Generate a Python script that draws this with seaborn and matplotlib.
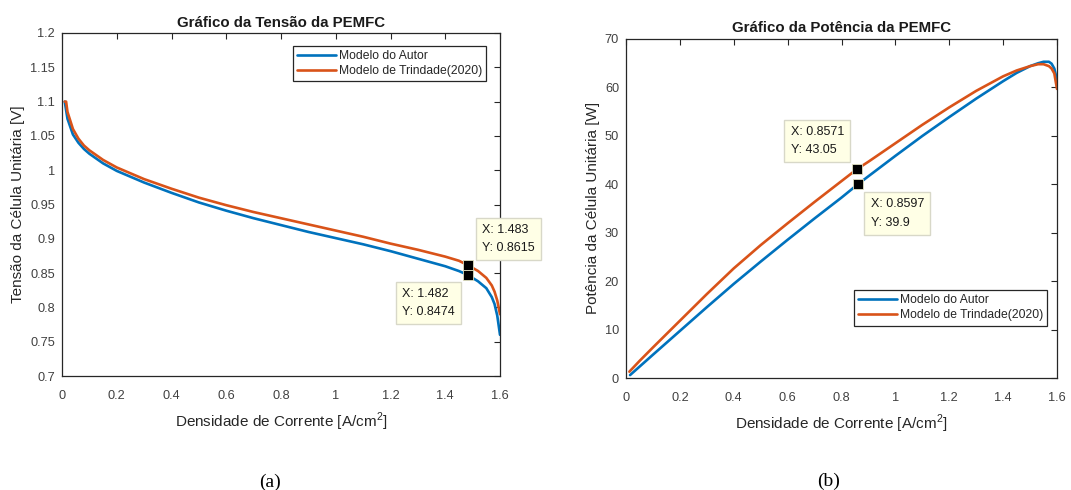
import matplotlib
matplotlib.use("Agg")
import matplotlib.pyplot as plt
import seaborn as sns
import pandas as pd

# ---------------- data ----------------
# Voltage (a)
v_current_autor = [0.01, 0.02, 0.04, 0.06, 0.08, 0.10, 0.15, 0.20, 0.30, 0.40, 0.50, 0.60, 0.70,
                   0.80, 0.90, 1.00, 1.10, 1.20, 1.30, 1.40, 1.45, 1.482, 1.52, 1.55, 1.57, 1.58, 1.59, 1.60]
v_autor = [1.100, 1.075, 1.052, 1.040, 1.031, 1.024, 1.010, 0.999, 0.982, 0.967, 0.953, 0.941, 0.930,
           0.920, 0.910, 0.901, 0.892, 0.882, 0.871, 0.860, 0.853, 0.8474, 0.838, 0.828, 0.815, 0.805, 0.788, 0.760]
v_current_trindade = [0.01, 0.015, 0.02, 0.04, 0.06, 0.08, 0.10, 0.15, 0.20, 0.30, 0.40, 0.50, 0.60, 0.70,
                      0.80, 0.90, 1.00, 1.10, 1.20, 1.30, 1.40, 1.45, 1.483, 1.52, 1.55, 1.57, 1.58, 1.59, 1.60]
v_trindade = [1.100, 1.100, 1.085, 1.060, 1.046, 1.036, 1.029, 1.015, 1.004, 0.987, 0.973, 0.960, 0.949, 0.939,
              0.930, 0.921, 0.912, 0.903, 0.893, 0.884, 0.874, 0.868, 0.8615, 0.853, 0.843, 0.832, 0.823, 0.810, 0.790]

# Power (b)
p_current_autor = [0.015, 0.10, 0.20, 0.30, 0.40, 0.50, 0.60, 0.70, 0.80, 0.8597, 0.90, 1.00, 1.10, 1.20,
                   1.30, 1.40, 1.45, 1.50, 1.53, 1.55, 1.57, 1.58, 1.59, 1.60]
p_autor = [0.6, 4.8, 9.7, 14.6, 19.4, 24.0, 28.5, 32.9, 37.2, 39.9, 41.6, 45.8, 49.9, 53.8,
           57.6, 61.2, 62.9, 64.3, 64.9, 65.2, 65.2, 64.8, 63.8, 61.5]
p_current_trindade = [0.0125, 0.05, 0.10, 0.20, 0.30, 0.40, 0.50, 0.60, 0.70, 0.80, 0.8571, 0.90, 1.00, 1.10,
                      1.20, 1.30, 1.40, 1.45, 1.50, 1.53, 1.55, 1.57, 1.58, 1.59, 1.60]
p_trindade = [1.3, 3.5, 6.3, 11.8, 17.3, 22.6, 27.4, 31.9, 36.3, 40.6, 43.05, 44.6, 48.4, 52.2,
              55.8, 59.2, 62.2, 63.4, 64.3, 64.7, 64.7, 64.3, 63.8, 62.8, 59.6]

# Data tips
tips_a_x = [1.483, 1.482]
tips_a_y = [0.8615, 0.8474]
tips_b_x = [0.8571, 0.8597]
tips_b_y = [43.05, 39.9]

series_names = ["Modelo do Autor", "Modelo de Trindade(2020)"]
colors = ["#0072BD", "#D95319"]

xticks = [0, 0.2, 0.4, 0.6, 0.8, 1, 1.2, 1.4, 1.6]
xticklabels = ["0", "0.2", "0.4", "0.6", "0.8", "1", "1.2", "1.4", "1.6"]
yticks_a = [0.7, 0.75, 0.8, 0.85, 0.9, 0.95, 1.0, 1.05, 1.1, 1.15, 1.2]
yticklabels_a = ["0.7", "0.75", "0.8", "0.85", "0.9", "0.95", "1", "1.05", "1.1", "1.15", "1.2"]
yticks_b = [0, 10, 20, 30, 40, 50, 60, 70]
yticklabels_b = ["0", "10", "20", "30", "40", "50", "60", "70"]

# ---------------- style ----------------
sns.set_theme(style="white")
plt.rcParams['font.family'] = ['Liberation Sans', 'DejaVu Sans']
plt.rcParams['mathtext.fontset'] = 'custom'
plt.rcParams['mathtext.rm'] = 'Liberation Sans'
axis_gray = "#262626"

df_a = pd.concat([
    pd.DataFrame({"i": v_current_autor, "v": v_autor, "serie": series_names[0]}),
    pd.DataFrame({"i": v_current_trindade, "v": v_trindade, "serie": series_names[1]}),
])
df_b = pd.concat([
    pd.DataFrame({"i": p_current_autor, "p": p_autor, "serie": series_names[0]}),
    pd.DataFrame({"i": p_current_trindade, "p": p_trindade, "serie": series_names[1]}),
])

W, H = 1071, 490
fig = plt.figure(figsize=(W / 100, H / 100), dpi=100)
ax_a = fig.add_axes([62 / W, 1 - 376 / H, (500 - 62) / W, (376 - 33) / H])
ax_b = fig.add_axes([626 / W, 1 - 378 / H, (1057 - 626) / W, (378 - 38.5) / H])


def style_axes(ax):
    for s in ax.spines.values():
        s.set_color(axis_gray)
        s.set_linewidth(0.9)
    ax.tick_params(direction="in", length=4, width=0.8, color=axis_gray,
                   top=True, right=True, labelsize=9.2, labelcolor="#404040")
    ax.tick_params(axis="x", pad=10)
    ax.tick_params(axis="y", pad=5)
    ax.set_xlim(0, 1.6)
    ax.set_xticks(xticks)
    ax.set_xticklabels(xticklabels)
    ax.grid(False)


def datatip(ax, x, y, text, offset, ha, va):
    ax.plot([x], [y], marker="s", color="black", markersize=7.2, linestyle="none",
            markeredgecolor="#e0e0c0", markeredgewidth=0.6, zorder=5, clip_on=False)
    ax.annotate(text, xy=(x, y), xytext=offset, textcoords="offset pixels",
                ha=ha, va=va, multialignment="left", fontsize=9, color="#1a1a1a",
                linespacing=1.7, annotation_clip=False, zorder=6,
                bbox=dict(boxstyle="square,pad=0.5", fc="#FFFFE6", ec="#d8d8c8", lw=1.0))


def style_legend(ax, loc, anchor):
    leg = ax.legend(loc=loc, bbox_to_anchor=anchor, fontsize=8.7, frameon=True,
                    fancybox=False, handlelength=3.2, handletextpad=0.25, borderpad=0.35,
                    labelspacing=0.25, borderaxespad=0)
    leg.get_frame().set_edgecolor(axis_gray)
    leg.get_frame().set_linewidth(0.9)
    leg.get_frame().set_alpha(1)
    return leg


title_kw = dict(fontsize=10.8, fontweight="bold", color="#1a1a1a", pad=4.5)
label_kw = dict(fontsize=11, color="#262626")

# ---- (a) voltage ----
sns.lineplot(data=df_a, x="i", y="v", hue="serie", palette=colors, hue_order=series_names,
             linewidth=1.9, sort=False, estimator=None, ax=ax_a)
style_axes(ax_a)
ax_a.set_ylim(0.7, 1.2)
ax_a.set_yticks(yticks_a)
ax_a.set_yticklabels(yticklabels_a)
ax_a.set_title("Gráfico da Tensão da PEMFC", **title_kw)
ax_a.set_xlabel("Densidade de Corrente [A/cm$^2$]", labelpad=6.5, **label_kw)
ax_a.set_ylabel("Tensão da Célula Unitária [V]", labelpad=3.5, **label_kw)
style_legend(ax_a, "upper right", ((486 - 62) / 438, (376 - 46) / 343))

datatip(ax_a, tips_a_x[0], tips_a_y[0], f"X: {tips_a_x[0]}\nY: {tips_a_y[0]}", (14, 11), "left", "bottom")
datatip(ax_a, tips_a_x[1], tips_a_y[1], f"X: {tips_a_x[1]}\nY: {tips_a_y[1]}", (-13, -13), "right", "top")

# ---- (b) power ----
sns.lineplot(data=df_b, x="i", y="p", hue="serie", palette=colors, hue_order=series_names,
             linewidth=1.9, sort=False, estimator=None, ax=ax_b)
style_axes(ax_b)
ax_b.set_ylim(0, 70)
ax_b.set_yticks(yticks_b)
ax_b.set_yticklabels(yticklabels_b)
ax_b.set_title("Gráfico da Potência da PEMFC", **title_kw)
ax_b.set_xlabel("Densidade de Corrente [A/cm$^2$]", labelpad=6.5, **label_kw)
ax_b.set_ylabel("Potência da Célula Unitária [W]", labelpad=3.5, **label_kw)
style_legend(ax_b, "lower right", ((1047 - 626) / 431, (378 - 325.5) / 339.5))

datatip(ax_b, tips_b_x[0], tips_b_y[0], f"X: {tips_b_x[0]}\nY: {tips_b_y[0]}", (-13, 13), "right", "bottom")
datatip(ax_b, tips_b_x[1], tips_b_y[1], f"X: {tips_b_x[1]}\nY: {tips_b_y[1]}", (13, -14), "left", "top")

# sub-captions
fig.text(270 / W, 1 - 482 / H, "(a)", fontsize=14, family=["Liberation Serif", "DejaVu Serif"],
         ha="center", va="center", color="black")
fig.text(829 / W, 1 - 481 / H, "(b)", fontsize=14, family=["Liberation Serif", "DejaVu Serif"],
         ha="center", va="center", color="black")

fig.savefig("out.png", dpi=100, facecolor="white")
